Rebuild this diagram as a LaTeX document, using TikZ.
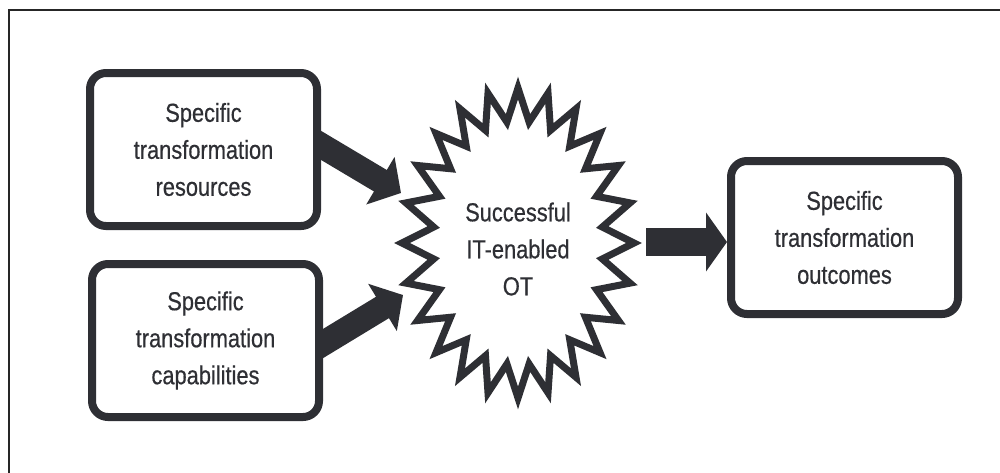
\documentclass[tikz,border=0pt]{standalone}
\usepackage{fontspec}
\setmainfont[FakeStretch=0.84, FakeBold=0.5]{Liberation Sans}
\usetikzlibrary{arrows.meta,backgrounds}
\definecolor{ink}{RGB}{46,47,52}
\begin{document}
\begin{tikzpicture}[x=1pt,y=-1pt,
  labeltext/.style={align=center, text=ink, font=\fontsize{26}{37}\selectfont},
  box/.style={labeltext, draw=ink, line width=8pt, rounded corners=16pt, fill=white,
    minimum width=227pt, minimum height=153pt, inner sep=0pt},
  blockarrow/.style={draw=ink, line width=25pt, -{Triangle[length=24pt,width=54pt]}},
  widearrow/.style={draw=ink, line width=28pt, -{Triangle[length=21pt,width=58pt]}},
  burst/.style={draw=ink, line width=7pt, fill=white, line join=miter, miter limit=10},
]
\useasboundingbox (0,0) rectangle (1000,472);
% frame
\draw[line width=1.5pt, black!85] (9,480) -- (9,10) -- (1005,10);

% input and output boxes
\node[box] (res) at (203.5,149.5) {Specific\\transformation\\resources};
\node[box] (cap) at (205.5,340.5) {Specific\\transformation\\capabilities};
\node[box] (out) at (844.5,237.5) {Specific\\transformation\\outcomes};

% starburst around the central concept
\begin{scope}[shift={(518,243)}]
  \draw[burst] (0:116 and 155)
    \foreach \k in {0,...,23}{ -- ({\k*15+7.5}:85 and 122) -- ({\k*15+15}:116 and 155) } -- cycle;
\end{scope}
\node[labeltext] (ot) at (518,249) {Successful\\IT-enabled\\OT};

% arrow end points
\coordinate (resTail) at (312,140);
\coordinate (resHead) at (401,193);
\coordinate (capTail) at (314,349);
\coordinate (capHead) at (403,295);
\coordinate (otTail) at (646,242);

\begin{pgfonlayer}{background}
  \draw[blockarrow] (resTail) -- (resHead);
  \draw[blockarrow] (capTail) -- (capHead);
  \draw[widearrow] (otTail) -- (out.west |- otTail);
\end{pgfonlayer}
\end{tikzpicture}
\end{document}
